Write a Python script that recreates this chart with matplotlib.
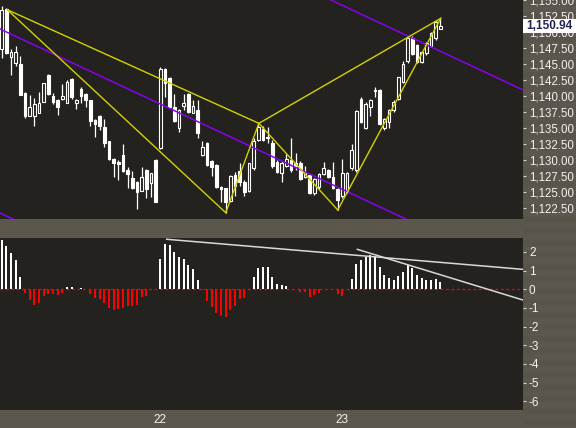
import matplotlib
matplotlib.use("Agg")
import matplotlib.pyplot as plt
from matplotlib.patches import Rectangle
from matplotlib.transforms import blended_transform_factory

# ---------------- data ----------------
opens = [1147.3, 1153.6, 1146.05, 1145.2, 1145.0, 1140.5, 1136.9, 1136.8, 1137.4, 1139.1,
         1143.3, 1140.0, 1139.3, 1139.5, 1138.95, 1142.7, 1138.95, 1141.05, 1140.3, 1139.3,
         1136.25, 1136.9, 1135.2, 1132.9, 1130.15, 1129.7, 1130.8, 1128.45, 1127.15, 1126.55,
         1125.2, 1128.45, 1126.35, 1130.0, 1131.8, 1144.2, 1142.8, 1138.3, 1134.95, 1138.45,
         1140.3, 1137.4, 1137.8, 1130.8, 1132.7, 1129.85, 1129.2, 1125.8, 1125.6, 1123.65,
         1127.6, 1128.3, 1126.6, 1125.2, 1128.7, 1133.2, 1134.8, 1133.6, 1132.6, 1129.75,
         1128.0, 1129.05, 1130.0, 1129.5, 1129.6, 1127.3, 1127.65, 1124.8, 1125.8, 1127.8,
         1128.4, 1127.4, 1125.4, 1124.3, 1125.05, 1128.7, 1128.4, 1139.6, 1135.05, 1138.3,
         1140.85, 1141.0, 1134.95, 1136.0, 1137.8, 1139.5, 1142.2, 1145.4, 1149.0, 1147.95,
         1145.35, 1146.65, 1147.8, 1149.0, 1150.5]
highs = [1154.0, 1153.7, 1147.3, 1147.8, 1146.25, 1140.6, 1140.2, 1139.7, 1140.6, 1142.1,
         1143.4, 1140.4, 1139.5, 1141.9, 1142.5, 1142.8, 1139.5, 1141.4, 1140.4, 1139.4,
         1136.4, 1137.0, 1136.45, 1133.0, 1130.3, 1130.0, 1132.5, 1128.95, 1128.3, 1126.7,
         1128.95, 1128.6, 1128.0, 1130.1, 1144.6, 1144.3, 1142.9, 1140.3, 1138.0, 1140.3,
         1140.4, 1139.3, 1139.3, 1132.9, 1132.8, 1130.0, 1129.3, 1126.0, 1125.7, 1127.6,
         1128.2, 1129.5, 1126.8, 1129.6, 1133.4, 1135.7, 1135.3, 1135.1, 1133.2, 1130.0,
         1129.9, 1131.0, 1133.4, 1131.15, 1129.8, 1129.0, 1127.8, 1127.2, 1128.0, 1129.7,
         1128.6, 1129.7, 1125.6, 1130.1, 1128.2, 1132.5, 1137.8, 1139.8, 1139.0, 1139.6,
         1141.35, 1141.1, 1136.5, 1138.0, 1139.3, 1143.0, 1145.5, 1149.2, 1149.3, 1148.1,
         1147.1, 1148.5, 1150.0, 1151.8, 1152.14]
lows = [1145.9, 1146.5, 1143.3, 1144.7, 1140.1, 1136.5, 1136.8, 1135.3, 1137.3, 1139.0,
        1140.2, 1138.75, 1137.0, 1139.3, 1138.9, 1139.6, 1138.0, 1138.95, 1138.3, 1135.3,
        1133.6, 1134.7, 1132.1, 1130.0, 1127.4, 1126.9, 1128.2, 1125.7, 1125.4, 1122.4,
        1125.1, 1124.05, 1124.25, 1123.4, 1131.7, 1139.9, 1138.2, 1136.0, 1134.3, 1137.8,
        1137.4, 1137.3, 1133.4, 1130.7, 1129.1, 1127.5, 1125.7, 1123.5, 1121.7, 1123.5,
        1124.3, 1126.0, 1124.3, 1125.0, 1128.5, 1133.0, 1132.9, 1132.6, 1128.7, 1128.0,
        1126.5, 1128.9, 1128.2, 1128.4, 1126.9, 1127.2, 1124.7, 1124.6, 1125.5, 1127.6,
        1127.2, 1125.4, 1122.2, 1124.0, 1124.9, 1128.5, 1128.2, 1135.8, 1134.9, 1136.8,
        1139.9, 1135.5, 1134.7, 1134.95, 1137.5, 1139.3, 1142.0, 1145.2, 1146.4, 1145.2,
        1145.2, 1146.4, 1147.6, 1148.8, 1150.4]
closes = [1153.4, 1146.7, 1146.8, 1146.8, 1140.2, 1136.9, 1138.3, 1138.75, 1138.9, 1142.0,
          1140.3, 1139.1, 1138.3, 1140.0, 1142.2, 1139.9, 1139.4, 1140.05, 1139.4, 1136.1,
          1135.7, 1135.3, 1132.7, 1130.15, 1129.5, 1129.4, 1128.3, 1127.8, 1125.6, 1125.0,
          1127.3, 1125.5, 1127.9, 1123.5, 1144.2, 1142.0, 1138.3, 1136.1, 1137.8, 1138.95,
          1137.55, 1138.45, 1134.2, 1132.1, 1129.2, 1128.95, 1125.8, 1125.4, 1123.5, 1127.5,
          1125.95, 1126.6, 1125.05, 1129.5, 1132.9, 1135.2, 1133.1, 1133.5, 1129.0, 1128.2,
          1129.6, 1130.1, 1128.4, 1129.0, 1127.1, 1128.2, 1124.9, 1127.0, 1127.8, 1128.7,
          1127.4, 1125.6, 1123.75, 1127.9, 1127.9, 1131.6, 1137.65, 1136.0, 1138.75, 1139.4,
          1140.9, 1135.7, 1136.35, 1137.8, 1139.1, 1142.9, 1144.95, 1149.0, 1146.55, 1145.35,
          1146.9, 1148.35, 1149.9, 1151.6, 1150.94]

osc = [2.64, 2.32, 1.94, 1.57, 0.66, -0.18, -0.56, -0.84, -0.73, -0.34,
       -0.24, -0.24, -0.29, -0.18, 0.12, 0.12, 0.0, 0.06, 0.0, -0.25,
       -0.45, -0.52, -0.72, -0.99, -1.09, -1.04, -0.99, -0.88, -0.88, -0.82,
       -0.43, -0.36, 0.0, -0.05, 1.62, 2.43, 2.37, 2.0, 1.73, 1.62,
       1.30, 1.08, 0.5, -0.05, -0.63, -0.95, -1.27, -1.43, -1.48, -1.11,
       -0.89, -0.52, -0.47, 0.0, 0.66, 1.14, 1.19, 1.19, 0.66, 0.28,
       0.23, 0.18, 0.0, 0.0, -0.12, -0.17, -0.41, -0.31, -0.19, 0.0,
       0.0, 0.0, -0.24, -0.36, 0.0, 0.55, 1.36, 1.57, 1.75, 1.84,
       1.79, 1.19, 0.77, 0.61, 0.50, 0.71, 0.93, 1.30, 1.14, 0.77,
       0.61, 0.50, 0.50, 0.55, 0.39]

day_starts = [34, 73]
day_labels = ["22", "23"]

price_ticks = [1122.5, 1125.0, 1127.5, 1130.0, 1132.5, 1135.0, 1137.5, 1140.0,
               1142.5, 1145.0, 1147.5, 1150.0, 1152.5, 1155.0]
osc_ticks = [2, 1, 0, -1, -2, -3, -4, -5, -6]
last_price = 1150.94

# XABCD pattern pivots (bar index, price)
pat_x = [1.2, 48.0, 55.1, 72.0, 94.07]
pat_y = [1153.48, 1121.77, 1135.73, 1122.19, 1152.14]
pat_segments = [(0, 1), (1, 2), (2, 3), (3, 4), (0, 2), (2, 4)]

# purple channel lines: endpoints (bar index, price)
chan_x = [-1, 112]
chan_upper = [1179.44, 1140.84]
chan_mid = [1150.69, 1112.09]
chan_lower = [1121.94, 1083.34]

# oscillator trend lines
osc_line1_x = [35.35, 111.63]
osc_line1_y = [2.68, 1.07]
osc_line2_x = [76.2, 111.63]
osc_line2_y = [2.14, -0.57]

# ---------------- style ----------------
BG = "#23221e"
PANEL = "#5b574c"
STRIPE = "#58544a"
TXT = "#f2f2f2"
FONT = "Liberation Sans"

fig = plt.figure(figsize=(5.76, 4.28), dpi=100, facecolor=PANEL)
W = 522.7 / 576

# subtle horizontal stripes in the right-hand scale column (behind everything)
for k in range(0, 428, 12):
    fig.patches.append(Rectangle((W, 1 - (k + 6) / 428), 1 - W, 6 / 428,
                                 transform=fig.transFigure, facecolor=STRIPE,
                                 edgecolor="none", zorder=-5))

ax = fig.add_axes([0, 1 - 219 / 428, W, 219 / 428])
ax2 = fig.add_axes([0, 1 - 410 / 428, W, 172 / 428])

xlim = (-0.364, 111.63)
for a in (ax, ax2):
    a.set_facecolor(BG)
    for s in a.spines.values():
        s.set_visible(False)
    a.set_xlim(*xlim)

# candles
n = len(opens)
idx = list(range(n))
ax.vlines(idx, lows, highs, color="white", lw=0.9, zorder=2)
for i in idx:
    o, c = opens[i], closes[i]
    lo, hi = min(o, c), max(o, c)
    h = max(hi - lo, 0.06)
    up = c >= o
    ax.add_patch(Rectangle((i - 0.3, lo), 0.6, h,
                           facecolor=BG if up else "white",
                           edgecolor="white", lw=0.8, zorder=3))

# channel lines
for ys in (chan_upper, chan_mid, chan_lower):
    ax.plot(chan_x, ys, color="#8a00f0", lw=1.1, zorder=4)

# pattern lines
for a_, b_ in pat_segments:
    ax.plot([pat_x[a_], pat_x[b_]], [pat_y[a_], pat_y[b_]],
            color="#d2d200", lw=1.0, zorder=5)

ax.set_ylim(1155 - 219 / 6.4, 1155.0)
ax.yaxis.tick_right()
ax.set_yticks(price_ticks)
ax.set_yticklabels([f"{v:,.2f}" for v in price_ticks])
ax.tick_params(axis="y", colors="#cfcfcf", labelcolor=TXT, length=2.5, width=0.8,
               pad=2, labelsize=8.3)
for t in ax.get_yticklabels():
    t.set_fontfamily(FONT)
ax.set_xticks([])

# last price box
tr = blended_transform_factory(ax.transAxes, ax.transData)
box_h = 7 / 6.4
ax.add_patch(Rectangle((1.0, last_price - box_h), 54 / 522.7, 2 * box_h,
                       transform=tr, facecolor="white", edgecolor="none",
                       clip_on=False, zorder=10))
ax.text(1.0 + 4 / 522.7, last_price, f"{last_price:,.2f}", transform=tr,
        ha="left", va="center", fontsize=8.5, fontweight="bold",
        color="#222255", family=FONT, zorder=11, clip_on=False)

# oscillator
cols = ["white" if v >= 0 else "#ff0000" for v in osc]
ax2.bar(idx, osc, width=0.42, color=cols, zorder=3)
ax2.axhline(0, color="#ff0000", lw=0.9, ls=(0, (2.2, 2.2)), zorder=2)
ax2.plot(osc_line1_x, osc_line1_y, color="#d8d8d8", lw=1.1, zorder=4)
ax2.plot(osc_line2_x, osc_line2_y, color="#d8d8d8", lw=1.1, zorder=4)
ax2.set_ylim(-(410 - 289.3) / 18.67, (289.3 - 238) / 18.67)
ax2.yaxis.tick_right()
ax2.set_yticks(osc_ticks)
ax2.set_yticklabels([str(v) for v in osc_ticks])
ax2.tick_params(axis="y", colors="#cfcfcf", labelcolor=TXT, length=2.5, width=0.8,
                pad=2, labelsize=8.5)
ax2.set_xticks(day_starts)
ax2.set_xticklabels(day_labels)
ax2.tick_params(axis="x", length=0, pad=3, labelcolor=TXT, labelsize=8.5)
for t in ax2.get_yticklabels() + ax2.get_xticklabels():
    t.set_fontfamily(FONT)

fig.savefig("out.png", dpi=100, facecolor=fig.get_facecolor())
